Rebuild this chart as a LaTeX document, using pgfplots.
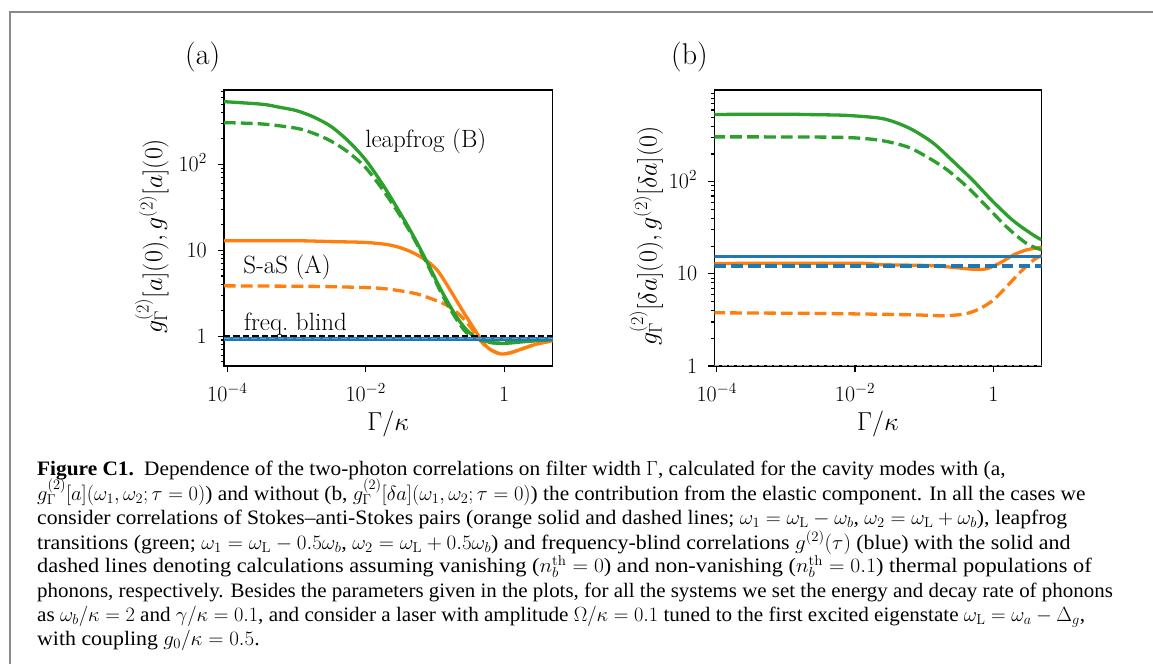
\RequirePackage{fix-cm}
\documentclass[border=0pt]{standalone}
\usepackage{fontspec}
\usepackage{graphicx}
\usepackage{pgfplots}
\pgfplotsset{compat=1.18}
\newfontfamily\capfont{Liberation Serif}[FakeStretch=1.04, Ligatures=TeX]
\definecolor{tblue}{HTML}{1F77B4}
\definecolor{torange}{HTML}{FF7F0E}
\definecolor{tgreen}{HTML}{2CA02C}
\definecolor{framegray}{HTML}{8A8A8A}
\tikzset{sol/.style={solid, line width=3.3pt, smooth, tension=0.5}, dsh/.style={line width=3.3pt, smooth, tension=0.5, dash pattern=on 11.8pt off 5.1pt}}
\begin{document}
\begin{tikzpicture}
\path[use as bounding box] (0pt,0pt) rectangle (1153pt,664pt);
\draw[framegray, line width=2.3pt] (10.3pt,0pt) -- (10.3pt,651.8pt) -- (1153pt,651.8pt);
\node[anchor=base west, font=\fontsize{30}{34}\selectfont, inner sep=0pt] at (185pt,599.5pt) {(a)};
\node[anchor=base west, font=\fontsize{30}{34}\selectfont, inner sep=0pt] at (671pt,599.5pt) {(b)};
% ---------------- panel (a)
\begin{axis}[xmode=log, ymode=log, scale only axis, height=276pt, width=328.5pt,
  at={(224pt,298pt)}, anchor=south west,
  axis line style={line width=1.5pt},
  tick style={black, line width=1.1pt},
  tick align=outside, major tick length=6pt, minor tick length=3.5pt,
  tick pos=left,
  xtick={1e-4,1e-2,1}, xticklabels={$10^{-4}$,$10^{-2}$,$1$},
  xminorticks=false,
  ytick={1,10,100}, yticklabels={$1$,$10$,$10^2$},
  tick label style={font=\fontsize{22}{26}\selectfont},
  xticklabel style={anchor=base, inner sep=0pt, yshift=-29.7pt},
  yticklabel style={anchor=base east, inner sep=0pt, xshift=-11pt, yshift=-7.1pt},
  label style={font=\fontsize{26}{30}\selectfont},
  xlabel={$\Gamma/\kappa$},
  xlabel style={at={(axis description cs:0.5,-0.232)}, anchor=base},
  xmin=8.95e-5, xmax=5, ymin=0.448, ymax=734,
  minor ytick={0.5,0.6,0.7,0.8,0.9,2,3,4,5,6,7,8,9,20,30,40,50,60,70,80,90,200,300,400,500,600,700},
  ylabel={$g^{(2)}_{\Gamma}[a](0), g^{(2)}[a](0)$},
  ylabel style={at={(axis description cs:-0.22,0.471)}, anchor=center},
  ]
\addplot[torange, sol] coordinates {(8.913e-5,12.91) (1e-3,12.88) (3.162e-3,12.59) (0.01,12.30) (0.02239,11.48) (0.03981,10.0) (0.06761,8.035) (0.1072,5.888) (0.166,3.436) (0.257,1.919) (0.4074,1.072) (0.5623,0.750) (0.7586,0.646) (0.9333,0.617) (1.230,0.638) (1.905,0.719) (2.951,0.807) (5,0.881)};
\addplot[torange, dsh] coordinates {(8.913e-5,3.846) (1e-3,3.802) (3.162e-3,3.758) (0.01622,3.597) (0.04898,3.162) (0.08511,2.754) (0.1479,2.291) (0.2291,1.758) (0.3236,1.282) (0.4266,0.940) (0.5623,0.741) (0.7586,0.646) (0.9333,0.617) (1.230,0.638) (1.905,0.719) (2.951,0.807) (5,0.881)};
\addplot[tgreen, sol] coordinates {(8.913e-5,537.0) (3.162e-4,501.2) (5.623e-4,462.4) (1e-3,421.7) (1.778e-3,354.8) (3.162e-3,275.4) (5.623e-3,186.2) (0.01,112.2) (0.01778,57.5) (0.03162,26.9) (0.05012,14.1) (0.07943,6.92) (0.1259,3.31) (0.1995,1.74) (0.2818,1.20) (0.3981,0.955) (0.631,0.845) (1,0.822) (1.995,0.861) (5,0.912)};
\addplot[tgreen, dsh] coordinates {(8.913e-5,306.2) (3.162e-4,295.1) (1e-3,263.0) (1.778e-3,229.1) (3.162e-3,186.2) (5.623e-3,138.0) (0.01,91.2) (0.01778,50.1) (0.03162,25.1) (0.05012,13.49) (0.07943,6.61) (0.1259,3.09) (0.1995,1.62) (0.2818,1.11) (0.3981,0.933) (0.631,0.841) (1,0.832) (1.995,0.871) (5,0.912)};
\addplot[tblue, sol] coordinates {(8.95e-5,0.925) (5,0.925)};
\addplot[tblue!70, dash pattern=on 6pt off 3pt, line width=1.2pt] coordinates {(8.95e-5,0.94) (5,0.94)};
\addplot[black, dash pattern=on 6.5pt off 3pt, line width=1.8pt] coordinates {(8.95e-5,1) (5,1)};
\node[anchor=base west, font=\fontsize{25}{30}\selectfont, inner sep=0pt] at (axis cs:9.8e-3,155) {leapfrog (B)};
\node[anchor=base west, font=\fontsize{25}{30}\selectfont, inner sep=0pt] at (axis cs:1.7e-4,5.4) {S-aS (A)};
\node[anchor=base west, font=\fontsize{25}{30}\selectfont, inner sep=0pt] at (axis cs:1.74e-4,1.17) {freq.\ blind};
\end{axis}
% ---------------- panel (b)
\begin{axis}[xmode=log, ymode=log, scale only axis, height=276pt, width=327.4pt,
  at={(714.3pt,298pt)}, anchor=south west,
  axis line style={line width=1.5pt},
  tick style={black, line width=1.1pt},
  tick align=outside, major tick length=6pt, minor tick length=3.5pt,
  tick pos=left,
  xtick={1e-4,1e-2,1}, xticklabels={$10^{-4}$,$10^{-2}$,$1$},
  xminorticks=false,
  ytick={1,10,100}, yticklabels={$1$,$10$,$10^2$},
  tick label style={font=\fontsize{22}{26}\selectfont},
  xticklabel style={anchor=base, inner sep=0pt, yshift=-29.7pt},
  yticklabel style={anchor=base east, inner sep=0pt, xshift=-11pt, yshift=-7.1pt},
  label style={font=\fontsize{26}{30}\selectfont},
  xlabel={$\Gamma/\kappa$},
  xlabel style={at={(axis description cs:0.5,-0.232)}, anchor=base},
  xmin=9.23e-5, xmax=5, ymin=1, ymax=990,
  minor ytick={2,3,4,5,6,7,8,9,20,30,40,50,60,70,80,90,200,300,400,500,600,700,800,900},
  ylabel={$g^{(2)}_{\Gamma}[\delta a](0), g^{(2)}[\delta a](0)$},
  ylabel style={at={(axis description cs:-0.208,0.471)}, anchor=center},
  ]
\addplot[black!35, dash pattern=on 5pt off 2.5pt, line width=1.2pt] coordinates {(9.23e-5,1) (5,1)};
\addplot[torange, sol] coordinates {(8.913e-5,12.97) (0.01,13.03) (0.02291,12.59) (0.1216,12.30) (0.263,11.75) (0.5129,11.22) (0.7943,11.35) (1.259,13.18) (1.95,16.03) (3.02,18.2) (5,19.5)};
\addplot[torange, dsh] coordinates {(8.913e-5,3.784) (3.162e-3,3.715) (0.03162,3.631) (0.0871,3.573) (0.2138,3.516) (0.4121,3.715) (0.6457,4.217) (1,5.2) (1.549,7.244) (2.455,10.47) (3.802,14.13) (5,15.85)};
\addplot[tgreen, sol] coordinates {(8.913e-5,537.0) (8.318e-4,540.8) (2.512e-3,534.6) (7.586e-3,524.8) (0.02291,489.8) (0.03981,436.5) (0.06918,363.1) (0.1349,263.0) (0.263,166.0) (0.5129,102.3) (1,60.3) (1.95,37.6) (3.802,26.3) (5,23.4)};
\addplot[tgreen, dsh] coordinates {(8.913e-5,306.9) (1e-3,306.2) (7.586e-3,302.0) (0.02291,281.8) (0.05623,239.9) (0.1096,186.2) (0.2138,134.9) (0.4169,88.1) (0.8035,53.7) (1.549,32.36) (3.02,21.38) (5,18.2)};
\addplot[tblue, sol] coordinates {(9.23e-5,15.5) (5,15.5)};
\addplot[tblue, dsh] coordinates {(9.23e-5,12.2) (5,12.2)};
\end{axis}
% ---------------- caption
\begin{scope}[every node/.style={anchor=base west, inner sep=0pt, font=\capfont\fontsize{20.5}{24}\selectfont}]
\node at (37pt,188.7pt) {\textbf{Figure C1.}\enspace Dependence of the two-photon correlations on filter width $\Gamma$, calculated for the cavity modes with (a,};
\node at (37pt,163.7pt) {$g_\Gamma^{(2)}[a](\omega_1,\omega_2;\tau=0)$) and without (b, $g_\Gamma^{(2)}[\delta a](\omega_1,\omega_2;\tau=0)$) the contribution from the elastic component. In all the cases we};
\node at (37pt,139.3pt) {\scalebox{1.016}[1]{consider correlations of Stokes–anti-Stokes pairs (orange solid and dashed lines; $\omega_1=\omega_\mathrm{L}-\omega_b$, $\omega_2=\omega_\mathrm{L}+\omega_b$), leapfrog}};
\node at (37pt,114.7pt) {\scalebox{1.027}[1]{transitions (green; $\omega_1=\omega_\mathrm{L}-0.5\omega_b$, $\omega_2=\omega_\mathrm{L}+0.5\omega_b$) and frequency-blind correlations $g^{(2)}(\tau)$ (blue) with the solid and}};
\node at (37pt,91.3pt) {\scalebox{1.05}[1]{dashed lines denoting calculations assuming vanishing ($n_b^\mathrm{th}=0$) and non-vanishing ($n_b^\mathrm{th}=0.1$) thermal populations of}};
\node at (37pt,67pt) {\scalebox{0.982}[1]{phonons, respectively. Besides the parameters given in the plots, for all the systems we set the energy and decay rate of phonons}};
\node at (37pt,43pt) {\scalebox{0.991}[1]{as $\omega_b/\kappa=2$ and $\gamma/\kappa=0.1$, and consider a laser with amplitude $\Omega/\kappa=0.1$ tuned to the first excited eigenstate $\omega_\mathrm{L}=\omega_a-\Delta_g$,}};
\node at (37pt,18.5pt) {\scalebox{1.025}[1]{with coupling $g_0/\kappa=0.5$.}};
\end{scope}
\end{tikzpicture}
\end{document}
